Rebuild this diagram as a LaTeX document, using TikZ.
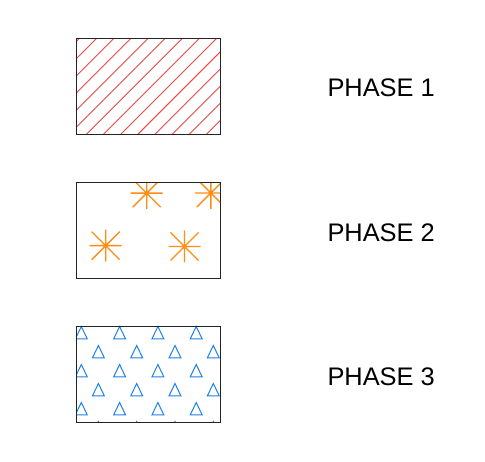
\documentclass[tikz,border=0pt]{standalone}
\usepackage{fontspec}
\setmainfont{Liberation Sans}
\definecolor{hatchred}{RGB}{240,70,70}
\definecolor{starorange}{RGB}{255,140,20}
\definecolor{triblue}{RGB}{30,130,235}
\definecolor{edgegray}{RGB}{35,35,35}
\begin{document}
\begin{tikzpicture}[x=1pt,y=-1pt,
  phasebox/.style={draw=edgegray,line width=1pt,minimum width=144pt,minimum height=96pt,inner sep=0pt},
  hatchline/.style={hatchred,line width=0.9pt},
  starline/.style={starorange,line width=1.4pt},
  triline/.style={triblue,line width=1pt,line join=miter},
  phaselabel/.style={anchor=base west,inner sep=0pt,font=\fontsize{25.4}{30}\selectfont}]
\useasboundingbox (0,0) rectangle (485,462);
\fill[white] (0,0) rectangle (485,462);
% boxes
\coordinate (c1) at (148.7,86.2);
\coordinate (c2) at (148.7,230.2);
\coordinate (c3) at (148.7,374.1);
% phase 1 hatch
\begin{scope}
\clip (76.7,38.3) rectangle (220.7,134);
\foreach \k in {-7,...,6}{
  \pgfmathsetmacro{\cc}{220.7-17.14*\k}
  \draw[hatchline] (\cc-150,150) -- (\cc-20,20);
}
\end{scope}
% phase 2 stars
\begin{scope}
\clip (76.7,182.3) rectangle (220.7,278);
\foreach \sx/\sy in {146.7/193.2, 210.8/193, 105.7/245.7, 184.5/246.5}{
  \draw[starline] (\sx-16,\sy) -- (\sx+16,\sy) (\sx,\sy-16) -- (\sx,\sy+16)
    (\sx-14,\sy-14) -- (\sx+14,\sy+14) (\sx-14,\sy+14) -- (\sx+14,\sy-14);
}
\end{scope}
% phase 3 triangles
\begin{scope}
\clip (76.7,326) rectangle (220.7,422);
\foreach \j in {0,...,5}{
  \pgfmathsetmacro{\by}{339+19*\j}
  \pgfmathsetmacro{\offx}{mod(\j,2)==0 ? 81.3 : 98.4}
  \foreach \i in {-1,...,4}{
    \pgfmathsetmacro{\tx}{\offx+38.3*\i}
    \draw[triline] (\tx-6,\by) -- (\tx,\by-12.5) -- (\tx+6,\by) -- cycle;
  }
}
\end{scope}
\node[phasebox] (b1) at (c1) {};
\node[phasebox] (b2) at (c2) {};
\node[phasebox] (b3) at (c3) {};
% labels
\node[phaselabel] (l1) at (327.3,96.7) {PHASE 1};
\node[phaselabel] (l2) at (327.3,241.2) {PHASE 2};
\node[phaselabel] (l3) at (327.3,385.5) {PHASE 3};
\end{tikzpicture}
\end{document}
